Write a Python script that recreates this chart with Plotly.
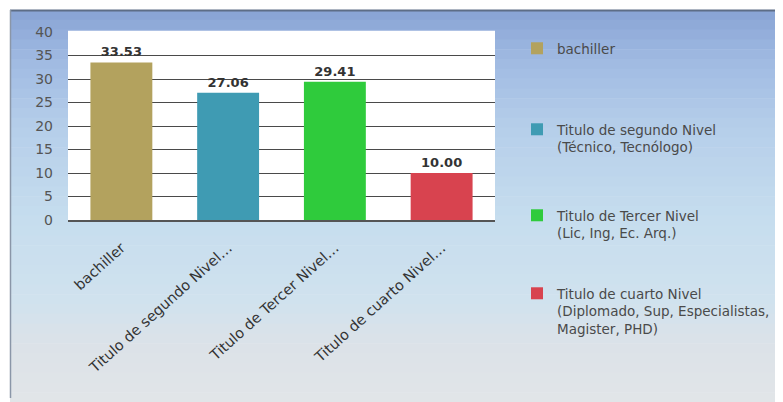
import plotly.graph_objects as go

# ---- data ----
categories = ["bachiller", "Titulo de segundo Nivel…", "Titulo de Tercer Nivel…", "Titulo de cuarto Nivel…"]
legend_names = [
    "bachiller",
    "Titulo de segundo Nivel<br>(Técnico, Tecnólogo)",
    "Titulo de Tercer Nivel<br>(Lic, Ing, Ec. Arq.)",
    "Titulo de cuarto Nivel<br>(Diplomado, Sup, Especialistas,<br>Magister, PHD)",
]
values = [33.53, 27.06, 29.41, 10.00]
value_labels = ["33.53", "27.06", "29.41", "10.00"]
colors = ["#b3a25e", "#3f9bb3", "#2fcb3c", "#d8434f"]
y_ticks = [0, 5, 10, 15, 20, 25, 30, 35, 40]

# ---- geometry (page pixels; the page body adds an 8px offset) ----
OFF = 8
PAGE_W, PAGE_H = 783, 402
W, H = PAGE_W - OFF, PAGE_H - OFF
PL, PR, PT, PB = 68, 495, 32, 220  # plot area in page pixels


def px_x(x):
    return (x - PL) / (PR - PL)


def px_y(y):
    return (PB - y) / (PB - PT)


fig = go.Figure()
legend_keys = ["legend", "legend2", "legend3", "legend4"]
for i in range(len(categories)):
    fig.add_trace(go.Bar(
        x=[categories[i]], y=[values[i]],
        name=legend_names[i],
        marker=dict(color=colors[i], line=dict(width=0)),
        text=[value_labels[i]], textposition="outside",
        textfont=dict(family="DejaVu Sans", size=13, color="#333333", weight="bold"),
        cliponaxis=False,
        legend=legend_keys[i],
        width=0.58,
    ))

# background gradient (bands)
shapes = []
stops = [
    (10, (136, 163, 212)),
    (60, (160, 186, 226)),
    (130, (182, 207, 234)),
    (220, (198, 221, 238)),
    (300, (208, 226, 238)),
    (345, (220, 226, 232)),
    (402, (226, 229, 232)),
]
nb = 40
for k in range(nb):
    y0 = 10 + (PAGE_H - 10) * k / nb
    y1 = 10 + (PAGE_H - 10) * (k + 1) / nb
    ym = (y0 + y1) / 2
    for j in range(len(stops) - 1):
        if stops[j][0] <= ym <= stops[j + 1][0]:
            t = (ym - stops[j][0]) / (stops[j + 1][0] - stops[j][0])
            c = tuple(int(round(stops[j][1][m] + t * (stops[j + 1][1][m] - stops[j][1][m]))) for m in range(3))
            break
    shapes.append(dict(type="rect", xref="paper", yref="paper",
                       x0=px_x(10), x1=px_x(PAGE_W), y0=px_y(y1 + 0.5), y1=px_y(y0),
                       fillcolor="rgb(%d,%d,%d)" % c, line=dict(width=0), layer="below"))
# frame lines
shapes.append(dict(type="line", xref="paper", yref="paper", x0=px_x(10), x1=px_x(PAGE_W),
                   y0=px_y(10.5), y1=px_y(10.5), line=dict(color="#5d6d86", width=2), layer="below"))
shapes.append(dict(type="line", xref="paper", yref="paper", x0=px_x(10.5), x1=px_x(10.5),
                   y0=px_y(10), y1=px_y(398), line=dict(color="#8a96a8", width=1.5), layer="below"))
# white plot area
shapes.append(dict(type="rect", xref="paper", yref="paper", x0=0, x1=1, y0=0, y1=1,
                   fillcolor="white", line=dict(width=0), layer="below"))
# the top edge of the plot area has no dark rule
shapes.append(dict(type="line", xref="paper", yref="paper", x0=0, x1=1, y0=1, y1=1,
                   line=dict(color="white", width=2.5), layer="above"))

legend_tops = [33, 114, 200, 278]  # page pixels
legends = {}
for i, key in enumerate(legend_keys):
    legends[key] = dict(
        xref="container", yref="container",
        x=(517 - OFF) / W, y=1 - (legend_tops[i] - OFF) / H,
        xanchor="left", yanchor="top",
        bgcolor="rgba(0,0,0,0)",
        font=dict(family="DejaVu Sans", size=13.5, color="#4a4a4a"),
        valign="top",
    )

fig.update_layout(
    width=W, height=H,
    margin=dict(l=PL - OFF, r=PAGE_W - PR, t=PT - OFF, b=PAGE_H - PB, pad=0),
    paper_bgcolor="white",
    plot_bgcolor="white",
    shapes=shapes,
    bargap=0.42,
    showlegend=True,
    xaxis=dict(
        tickangle=-42,
        tickfont=dict(family="DejaVu Sans", size=14.5, color="#333333"),
        showline=True, linecolor="#555555", linewidth=1.5,
        ticks="", ticklabelstandoff=12,
    ),
    yaxis=dict(
        range=[0, 40], tickvals=y_ticks,
        tickfont=dict(family="DejaVu Sans", size=14, color="#555555"),
        showgrid=True, gridcolor="#4a4a4a", gridwidth=1.2,
        zeroline=False, showline=False,
        ticks="", ticklabelstandoff=14,
    ),
    **legends,
)

fig.write_html("out.html")
